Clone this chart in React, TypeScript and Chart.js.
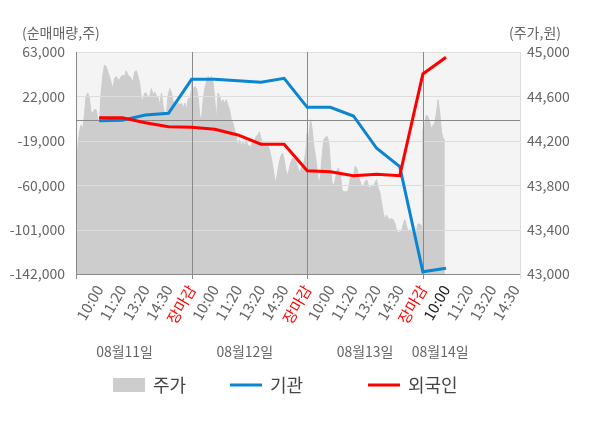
import { useEffect, useRef } from "react";
import { Chart } from "chart.js/auto";

// x axis: one slot per label, a trading day = 5 slots (09:00 .. 장마감)
const xLabels = [
  "10:00", "11:20", "13:20", "14:30", "장마감",
  "10:00", "11:20", "13:20", "14:30", "장마감",
  "10:00", "11:20", "13:20", "14:30", "장마감",
  "10:00", "11:20", "13:20", "14:30",
];
const xTickSlots = [1, 2, 3, 4, 5, 6, 7, 8, 9, 10, 11, 12, 13, 14, 15, 16, 17, 18, 19];
const currentSlot = 16;
const dayLabels = ["08월11일", "08월12일", "08월13일", "08월14일"];
const dayLabelSlots = [2.1, 7.3, 12.5, 15.75];

const leftTicks = [63000, 22000, -19000, -60000, -101000, -142000];
const rightTicks = [45000, 44600, 44200, 43800, 43400, 43000];

// 순매매량 (net buying), one value per slot
const flowSlots = [1, 2, 3, 4, 5, 6, 7, 8, 9, 10, 11, 12, 13, 14, 15, 16];
const institution = [
  -500, 0, 4800, 6400, 37800,
  37800, 36500, 35000, 38700, 11900,
  11900, 3900, -25900, -42900, -139900, -136700,
];
const foreign = [
  2300, 2300, -2300, -6000, -6500,
  -8400, -13600, -22200, -22200, -46600,
  -47500, -51200, -49900, -51200, 42700, 58100,
];

// 주가 (price), intraday samples per day
const priceDay1 = [
  43980, 44120, 44280, 44340, 44300, 44430, 44600, 44630, 44580, 44460, 44450, 44480,
  44480, 44400, 44370, 44630, 44790, 44880, 44870, 44820, 44780, 44720, 44670, 44760,
  44780, 44750, 44750, 44780, 44790, 44780, 44830, 44790, 44780, 44760, 44730, 44820,
  44830, 44780, 44720, 44580, 44570, 44630, 44630, 44580, 44600, 44670, 44610, 44640,
  44600, 44590, 44520, 44630, 44510, 44430, 44450, 44610, 44670, 44630, 44550, 44540,
  44520, 44540, 44520, 44540, 44490, 44540, 44480, 44580, 44580, 44660,
];
const priceDay2 = [
  44720, 44660, 44690, 44670, 44580, 44420, 44400, 44570, 44670, 44730, 44780, 44750,
  44780, 44720, 44570, 44390, 44630, 44600, 44540, 44570, 44540, 44570, 44520, 44480,
  44390, 44360, 44300, 44250, 44130, 44210, 44160, 44190, 44150, 44210, 44150, 44160,
  44130, 44210, 44190, 44240, 44250, 44280, 44220, 44180, 44160, 44180, 44160, 44130,
  44060, 43980, 43880, 43820, 43910, 44000, 44060, 44090, 44030, 43940, 43880, 43940,
  44000, 44040, 44040, 44010, 43980, 43910, 43940, 43970, 44000, 44090, 44270,
];
const priceDay3 = [
  44070, 44240, 44390, 44300, 44150, 44060, 43940, 43800, 43880, 44060, 44210, 44230,
  44240, 44190, 44000, 43820, 43800, 43850, 43940, 43950, 43910, 43760, 43740, 43740,
  43740, 43760, 43860, 43880, 43890, 43970, 43950, 43890, 43830, 43790, 43790, 43830,
  43850, 43790, 43770, 43800, 43790, 43820, 43850, 43770, 43730, 43640, 43550, 43490,
  43530, 43500, 43490, 43500, 43490, 43460, 43400, 43370, 43380, 43380, 43440, 43490,
  43440, 43380, 43400, 43380, 43370, 43350, 43380, 43450, 43450, 43440, 43350,
];
const priceDay4 = [
  44300, 44340, 44430, 44420, 44370, 44310, 44340, 44360, 44450, 44570, 44450, 44280,
  44220, 44210,
];

const SLOTS_PER_DAY = 5;
const priceDays = [priceDay1, priceDay2, priceDay3, priceDay4];
const daySpans = [5, 5, 5, 0.95];

const FONT = "'Noto Sans CJK KR', 'Noto Sans', sans-serif";
const GREY_TEXT = "#666666";

const pricePoints = priceDays.flatMap((day, d) =>
  day.map((p, i) => ({ x: d * SLOTS_PER_DAY + (i * daySpans[d]) / (day.length - 1), y: p }))
);
const dayEnds = xTickSlots.filter((_, i) => xLabels[i] === "장마감");

const framePlugin = {
  id: "frame",
  beforeDatasetsDraw(chart: any) {
    const { ctx, chartArea: a } = chart;
    ctx.save();
    ctx.fillStyle = "#f4f4f4";
    ctx.fillRect(a.left, a.top, a.right - a.left, a.bottom - a.top);
    ctx.restore();
  },
  afterDatasetDraw(chart: any, args: any) {
    if (args.index !== 0) return;
    const { ctx, chartArea: a, scales } = chart;
    const x = scales.x;
    const y = scales.y;
    ctx.save();
    ctx.lineWidth = 1;
    ctx.strokeStyle = "#dddddd";
    for (const v of leftTicks) {
      const py = Math.round(y.getPixelForValue(v)) + 0.5;
      ctx.beginPath();
      ctx.moveTo(a.left, py);
      ctx.lineTo(a.right, py);
      ctx.stroke();
    }
    // right border
    ctx.beginPath();
    ctx.moveTo(Math.round(a.right) + 0.5, a.top);
    ctx.lineTo(Math.round(a.right) + 0.5, a.bottom + 5);
    ctx.stroke();

    ctx.strokeStyle = "#8a8a8a";
    const p0 = Math.round(y.getPixelForValue(0)) + 0.5;
    ctx.beginPath();
    ctx.moveTo(a.left, p0);
    ctx.lineTo(a.right, p0);
    ctx.stroke();
    for (const s of [0, ...dayEnds]) {
      const px = Math.round(x.getPixelForValue(s)) + 0.5;
      ctx.beginPath();
      ctx.moveTo(px, a.top);
      ctx.lineTo(px, a.bottom + 5);
      ctx.stroke();
    }
    const pb = Math.round(a.bottom) + 0.5;
    ctx.beginPath();
    ctx.moveTo(a.left, pb);
    ctx.lineTo(a.right, pb);
    ctx.stroke();
    ctx.restore();
  },
  afterDraw(chart: any) {
    const { ctx, scales } = chart;
    ctx.save();
    ctx.fillStyle = GREY_TEXT;
    ctx.font = `14px ${FONT}`;
    ctx.textBaseline = "middle";
    ctx.textAlign = "left";
    ctx.fillText("(순매매량,주)", 22, 33);
    ctx.fillText("(주가,원)", 509, 33);
    ctx.textAlign = "center";
    dayLabels.forEach((t, i) => ctx.fillText(t, scales.x.getPixelForValue(dayLabelSlots[i]), 352));

    // legend
    const ly = 385;
    ctx.font = `18px ${FONT}`;
    ctx.textAlign = "left";
    const items = chart.data.datasets;
    const starts = [113, 230, 368];
    items.forEach((ds: any, i: number) => {
      const sx = starts[i];
      if (i === 0) {
        ctx.fillStyle = ds.backgroundColor;
        ctx.fillRect(sx, ly - 7, 32, 14);
      } else {
        ctx.strokeStyle = ds.borderColor;
        ctx.lineWidth = 3;
        ctx.beginPath();
        ctx.moveTo(sx, ly);
        ctx.lineTo(sx + 32, ly);
        ctx.stroke();
      }
      ctx.fillStyle = "#444444";
      ctx.fillText(ds.label, sx + 40, ly);
    });
    ctx.restore();
  },
};

export default function App() {
  const canvasRef = useRef<HTMLCanvasElement>(null);

  useEffect(() => {
    document.body.style.margin = "0";
    if (!canvasRef.current) return;
    const chart = new Chart(canvasRef.current, {
      type: "line",
      data: {
        datasets: [
          {
            label: "주가",
            data: pricePoints,
            yAxisID: "y2",
            backgroundColor: "#cdcdcd",
            borderColor: "#cdcdcd",
            borderWidth: 1,
            pointRadius: 0,
            fill: "start",
            order: 3,
          },
          {
            label: "기관",
            data: flowSlots.map((s, i) => ({ x: s, y: institution[i] })),
            yAxisID: "y",
            borderColor: "#0b85d0",
            backgroundColor: "#0b85d0",
            borderWidth: 3,
            pointRadius: 0,
            fill: false,
            order: 2,
          },
          {
            label: "외국인",
            data: flowSlots.map((s, i) => ({ x: s, y: foreign[i] })),
            yAxisID: "y",
            borderColor: "#ff0000",
            backgroundColor: "#ff0000",
            borderWidth: 3,
            pointRadius: 0,
            fill: false,
            order: 1,
          },
        ],
      },
      options: {
        animation: false,
        responsive: true,
        maintainAspectRatio: false,
        layout: { padding: { top: 52, left: 0, right: 0, bottom: 0 } },
        plugins: { legend: { display: false }, tooltip: { enabled: false } },
        scales: {
          x: {
            type: "linear",
            min: 0,
            max: 19.2,
            afterBuildTicks: (axis: any) => {
              axis.ticks = xTickSlots.map((v) => ({ value: v }));
            },
            afterFit: (axis: any) => {
              axis.height = 154;
            },
            grid: { display: false, drawTicks: false },
            border: { display: false },
            ticks: {
              autoSkip: false,
              minRotation: 60,
              maxRotation: 60,
              padding: 8,
              font: { family: FONT, size: 15 },
              color: (ctx: any) => {
                const i = xTickSlots.indexOf(ctx.tick.value);
                if (xLabels[i] === "장마감") return "#ff0000";
                if (ctx.tick.value === currentSlot) return "#222222";
                return GREY_TEXT;
              },
              callback: (value: any) => xLabels[xTickSlots.indexOf(value)],
            },
          },
          y: {
            position: "left",
            min: -142000,
            max: 63000,
            afterBuildTicks: (axis: any) => {
              axis.ticks = leftTicks.map((v) => ({ value: v }));
            },
            afterFit: (axis: any) => {
              axis.width = 76;
            },
            grid: { display: false, drawTicks: false },
            border: { display: false },
            ticks: {
              padding: 11,
              color: GREY_TEXT,
              font: { family: FONT, size: 14 },
              callback: (v: any) => Number(v).toLocaleString("en-US"),
            },
          },
          y2: {
            position: "right",
            min: 43000,
            max: 45000,
            afterBuildTicks: (axis: any) => {
              axis.ticks = rightTicks.map((v) => ({ value: v }));
            },
            afterFit: (axis: any) => {
              axis.width = 80;
            },
            grid: { display: false, drawTicks: false },
            border: { display: false },
            ticks: {
              padding: 7,
              color: GREY_TEXT,
              font: { family: FONT, size: 14 },
              callback: (v: any) => Number(v).toLocaleString("en-US"),
            },
          },
        },
      },
      plugins: [framePlugin],
    });
    return () => chart.destroy();
  }, []);

  return (
    <div style={{ position: "relative", width: 600, height: 428 }}>
      <canvas ref={canvasRef} />
    </div>
  );
}
